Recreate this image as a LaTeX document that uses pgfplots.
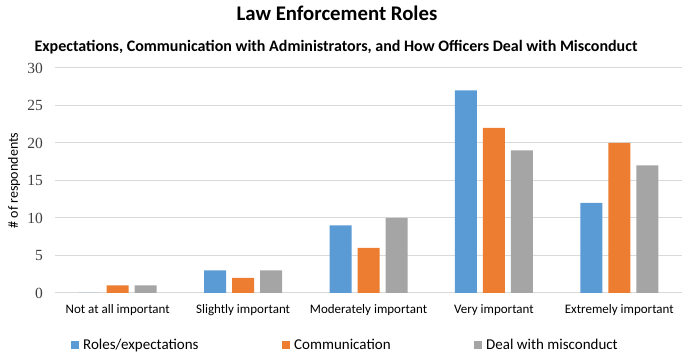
\documentclass[border=0pt]{standalone}
\usepackage{fontspec}
\setmainfont{Carlito}
\newfontfamily\tnr{Liberation Serif}
\usepackage{pgfplots}
\pgfplotsset{compat=1.18}
\definecolor{cblue}{HTML}{5B9BD5}
\definecolor{corange}{HTML}{ED7D31}
\definecolor{cgray}{HTML}{A5A5A5}
\definecolor{cgrid}{HTML}{D9D9D9}
\definecolor{ctick}{HTML}{404040}
\begin{document}
\begin{tikzpicture}
\path[use as bounding box] (0pt,0pt) rectangle (682pt,353pt);
\begin{axis}[
  at={(55pt,60pt)}, anchor=south west,
  width=627pt, height=225pt, scale only axis,
  ybar=6pt, bar width=22pt,
  xmin=-0.5, xmax=4.5, ymin=0, ymax=30,
  xtick=data,
  xticklabels={Not at all important, Slightly important, Moderately important, Very important, Extremely important},
  ytick={0,5,10,15,20,25,30},
  major tick length=0pt,
  axis line style={draw=none},
  ymajorgrids, grid style={cgrid, line width=1pt},
  /pgf/number format/assume math mode=true,
  yticklabel style={font=\tnr\fontsize{15.5}{18}\selectfont, text=ctick, anchor=east, inner sep=0pt, xshift=-12pt},
  xticklabel style={font=\fontsize{13}{15}\selectfont, anchor=base, inner sep=0pt, yshift=-20pt},
  every axis y label/.style={at={(axis description cs:-0.065,0.5)}, rotate=90, anchor=center, font=\fontsize{14}{16}\selectfont},
  ylabel={\# of respondents},
  legend columns=3,
  legend image code/.code={\fill[#1] (0pt,-4pt) rectangle (8pt,4pt);},
  legend style={draw=none, fill=none, at={(axis description cs:0.0255,-0.2333)}, anchor=west,
    inner sep=0pt, column sep=0pt, nodes={inner sep=0pt, anchor=west}, font=\fontsize{15}{17}\selectfont,
    /tikz/every odd column/.style={column sep=4pt}},
]
\addplot[fill=cblue, draw=none] coordinates {(0,0) (1,3) (2,9) (3,27) (4,12)};
\addplot[fill=corange, draw=none] coordinates {(0,1) (1,2) (2,6) (3,22) (4,20)};
\addplot[fill=cgray, draw=none] coordinates {(0,1) (1,3) (2,10) (3,19) (4,17)};
\addlegendentry{\makebox[199pt][l]{Roles/expectations}}
\addlegendentry{\makebox[180pt][l]{Communication}}
\addlegendentry{Deal with misconduct}
\end{axis}
\node[anchor=base, font=\bfseries\fontsize{20.8}{24}\selectfont, inner sep=0pt] at (337pt,332.5pt) {Law Enforcement Roles};
\node[anchor=base, font=\bfseries\fontsize{16}{19}\selectfont, inner sep=0pt] at (336pt,301.5pt) {Expectations, Communication with Administrators, and How Officers Deal with Misconduct};
\end{tikzpicture}
\end{document}
